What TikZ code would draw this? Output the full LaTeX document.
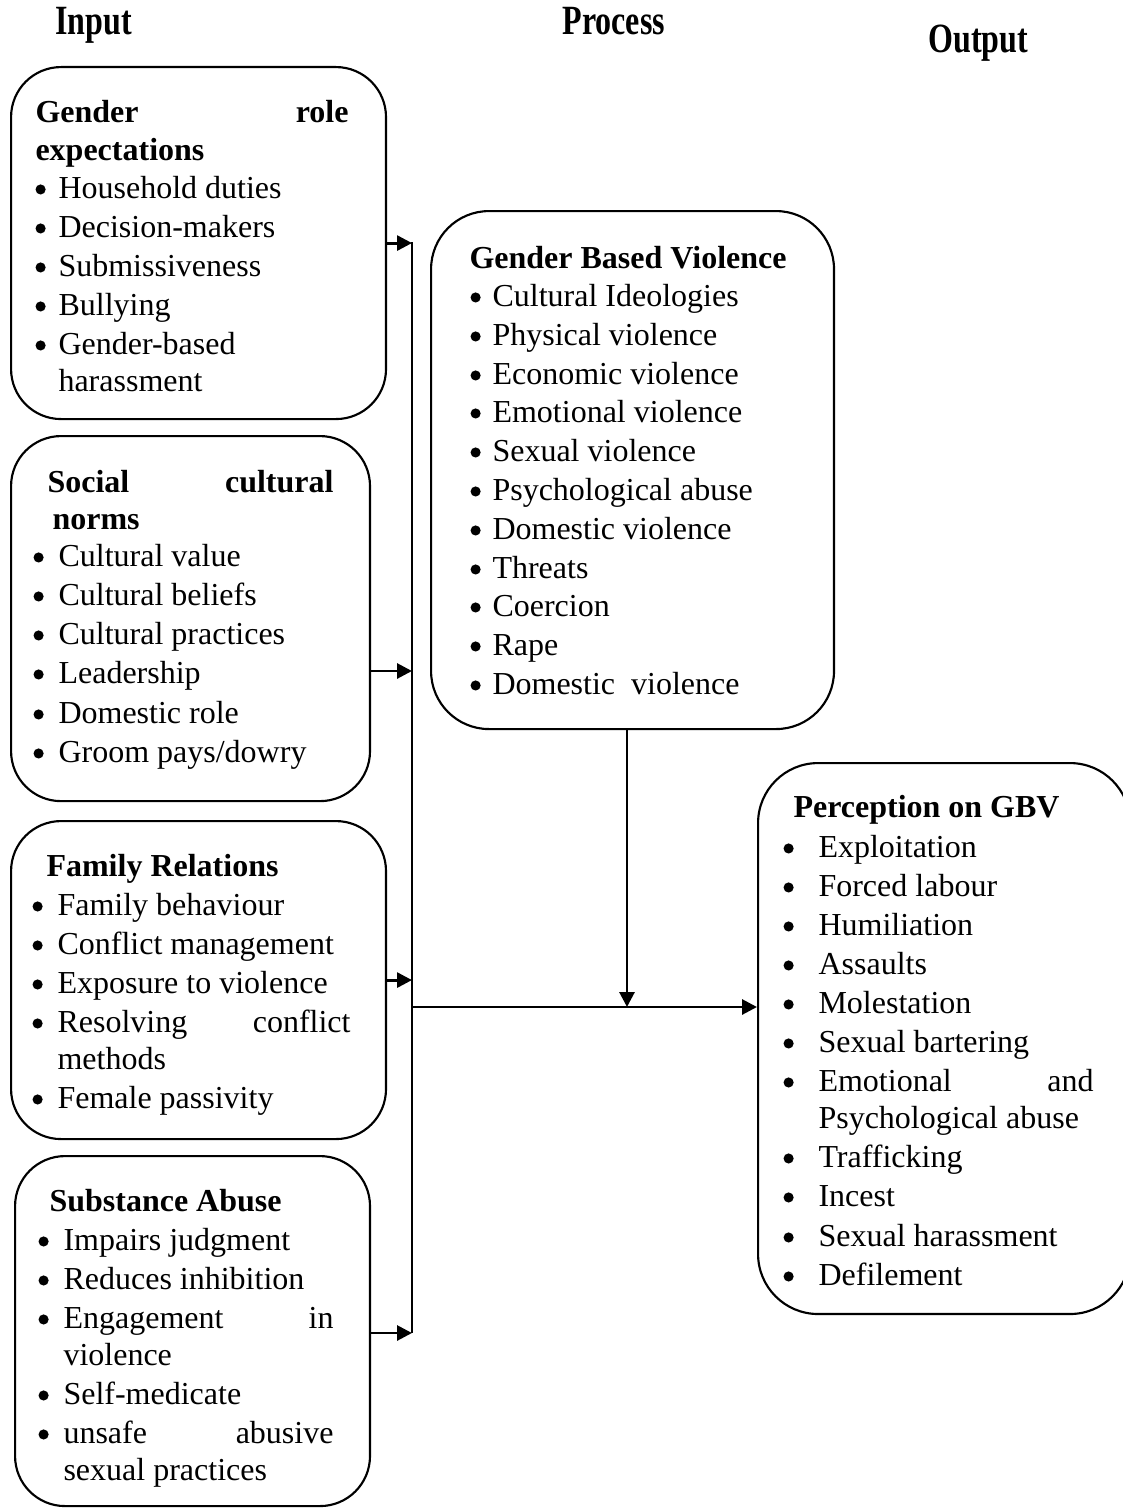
\documentclass[tikz,border=0pt]{standalone}
\usepackage{fontspec}
\setmainfont{Liberation Serif}
\usetikzlibrary{arrows.meta,calc}
\newdimen\px \px=0.375pt
\newcommand\bitem[5]{\node[bul] (#1b) at (#2,#4) {}; \node[txt] (#1) at (#3,#4) {#5};}
\newcommand\justln[3]{\hbox to #1\px{#2\hfill #3}}
\tikzset{
  bx/.style={draw, line width=0.8pt, rounded corners=18.75pt, anchor=north west, inner sep=0pt},
  bigbx/.style={bx, rounded corners=21.75pt},
  txt/.style={anchor=base west, inner sep=0pt, font=\fontsize{12}{14}\selectfont},
  bul/.style={circle, fill=black, inner sep=0pt, minimum size=3.8pt, anchor=west, yshift=3.2pt},
  hd/.style={txt, font=\fontsize{12}{14}\selectfont\bfseries},
  hdr/.style={anchor=base west, inner sep=0pt, font=\fontsize{12}{14}\selectfont\bfseries},
  conn/.style={line width=1.1pt},
  arr/.style={conn, -{Triangle[length=5.6pt,width=5.6pt]}},
}
\begin{document}
\begin{tikzpicture}[x=0.375pt, y=-0.375pt]
\useasboundingbox (0,0) rectangle (1123,1509);
% column headers
\node[hdr] (hin) at (55,35) {\scalebox{1}[1.3]{Input}};
\node[hdr] (hpr) at (562,35) {\scalebox{1}[1.3]{Process}};
\node[hdr] (hout) at (928,53) {\scalebox{1}[1.3]{Output}};
% boxes
\node[bx, minimum width=140.6pt, minimum height=132pt] (b1) at (10,66) {};
\node[bx, minimum width=134.6pt, minimum height=136.9pt] (b2) at (10,435) {};
\node[bx, minimum width=140.6pt, minimum height=119.25pt] (b3) at (10,820) {};
\node[bx, minimum width=133.1pt, minimum height=131.25pt] (b4) at (14,1155) {};
\node[bigbx, minimum width=151.1pt, minimum height=194.25pt] (gbv) at (430,210) {};
\node[bigbx, rounded corners=22.5pt, minimum width=139.5pt, minimum height=206.6pt] (per) at (757,762) {};
% box 1
\node[hd] (h1a) at (35,123) {\justln{313}{Gender}{role}};
\node[hd] (h1b) at (35,160) {expectations};
\bitem{a1}{35}{58}{198}{Household duties}
\bitem{a2}{35}{58}{237}{Decision-makers}
\bitem{a3}{35}{58}{276}{Submissiveness}
\bitem{a4}{35}{58}{315}{Bullying}
\bitem{a5}{35}{58}{354}{Gender-based}
\node[txt] (a5c) at (58,391) {harassment};
% box 2
\node[hd] (h2a) at (47,492) {\justln{286}{Social}{cultural}};
\node[hd] (h2b) at (52,529) {norms};
\bitem{c1}{33}{58}{566}{Cultural value}
\bitem{c2}{33}{58}{605}{Cultural beliefs}
\bitem{c3}{33}{58}{644}{Cultural practices}
\bitem{c4}{33}{58}{683}{Leadership}
\bitem{c5}{33}{58}{723}{Domestic role}
\bitem{c6}{33}{58}{762}{Groom pays/dowry}
% box 3
\node[hd] (h3) at (46,876) {Family Relations};
\bitem{f1}{32}{57}{915}{Family behaviour}
\bitem{f2}{32}{57}{954}{Conflict management}
\bitem{f3}{32}{57}{993}{Exposure to violence}
\bitem{f4}{32}{57}{1032}{\justln{293}{Resolving}{conflict}}
\node[txt] (f4c) at (57,1069) {methods};
\bitem{f5}{32}{57}{1108}{Female passivity}
% box 4
\node[hd] (h4) at (49,1211) {Substance Abuse};
\bitem{s1}{38}{63}{1250}{Impairs judgment}
\bitem{s2}{38}{63}{1289}{Reduces inhibition}
\bitem{s3}{38}{63}{1328}{\justln{270}{Engagement}{in}}
\node[txt] (s3c) at (63,1365) {violence};
\bitem{s4}{38}{63}{1404}{Self-medicate}
\bitem{s5}{38}{63}{1443}{\justln{270}{unsafe}{abusive}}
\node[txt] (s5c) at (63,1480) {sexual practices};
% GBV box
\node[hd] (hg) at (469,268) {Gender Based Violence};
\bitem{g1}{470}{492}{306}{Cultural Ideologies}
\bitem{g2}{470}{492}{345}{Physical violence}
\bitem{g3}{470}{492}{384}{Economic violence}
\bitem{g4}{470}{492}{422}{Emotional violence}
\bitem{g5}{470}{492}{461}{Sexual violence}
\bitem{g6}{470}{492}{500}{Psychological abuse}
\bitem{g7}{470}{492}{539}{Domestic violence}
\bitem{g8}{470}{492}{578}{Threats}
\bitem{g9}{470}{492}{616}{Coercion}
\bitem{g10}{470}{492}{655}{Rape}
\bitem{g11}{470}{492}{694}{Domestic\ \ violence}
% Perception box
\node[hd] (hp) at (793,817) {Perception on GBV};
\bitem{p1}{783}{818}{857}{Exploitation}
\bitem{p2}{783}{818}{896}{Forced labour}
\bitem{p3}{783}{818}{935}{Humiliation}
\bitem{p4}{783}{818}{974}{Assaults}
\bitem{p5}{783}{818}{1013}{Molestation}
\bitem{p6}{783}{818}{1052}{Sexual bartering}
\bitem{p7}{783}{818}{1091}{\justln{275}{Emotional}{and}}
\node[txt] (p7c) at (818,1128) {Psychological abuse};
\bitem{p8}{783}{818}{1167}{Trafficking}
\bitem{p9}{783}{818}{1206}{Incest}
\bitem{p10}{783}{818}{1246}{Sexual harassment}
\bitem{p11}{783}{818}{1285}{Defilement}
% connectors
\coordinate (bt) at (412,242);
\coordinate (bb) at (412,1333);
\coordinate (jn) at (412,1007);
\draw[conn] (bt) -- (bb);
\draw[arr] (b1.east) -- (b1.east -| bt);
\draw[arr] (b2.east |- 0,671) -- (bt |- 0,671);
\draw[arr] (b3.east) -- (b3.east -| bt);
\draw[arr] (b4.east |- 0,1333) -- (bb);
\draw[arr] (jn) -- (per.west |- jn);
\draw[arr] (gbv.south -| 627,0) -- (jn -| 627,0);
\end{tikzpicture}
\end{document}
